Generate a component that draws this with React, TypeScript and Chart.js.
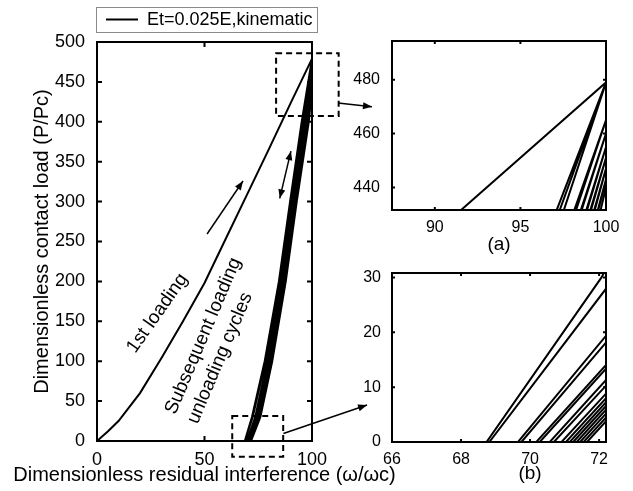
import { useEffect, useRef } from "react";
import { Chart, registerables } from "chart.js";

Chart.register(...registerables);

const W = 633;
const H = 491;
const FONT = "'Liberation Sans', Arial, Helvetica, sans-serif";

// ---------- texts ----------
const seriesLabel = "Et=0.025E,kinematic";
const xTitle = "Dimensionless residual interference (\u03c9/\u03c9c)";
const yTitle = "Dimensionless contact load (P/Pc)";
const firstLoadingText = "1st loading";
const cycleTextLines = ["Subsequent loading", "unloading cycles"];
const insetALabel = "(a)";
const insetBLabel = "(b)";

// ---------- data ----------
// first loading curve
const firstLoadX = [0, 5, 10, 20, 30, 40, 50, 60, 70, 80, 90, 100];
const firstLoadP = [0, 12, 25, 60, 104, 150, 198, 254, 310, 366, 423, 479];

// subsequent unloading / reloading branches: residual interference at these load levels
const branchLoadLevels = [0, 30, 100, 200, 300, 400];
const branchX = [
  [68.74, 72.07, 78.0, 84.6, 89.8, 95.2],
  [68.82, 72.45, 78.3, 84.9, 90.1, 95.5],
  [69.65, 73.6, 79.2, 85.6, 90.7, 95.9],
  [69.75, 73.8, 79.5, 85.9, 91.1, 96.4],
  [70.18, 74.5, 80.0, 86.3, 91.4, 96.6],
  [70.28, 74.6, 80.2, 86.5, 91.6, 96.9],
  [70.57, 74.9, 80.4, 86.7, 91.8, 97.0],
  [70.69, 75.1, 80.6, 86.9, 92.0, 97.3],
  [70.91, 75.3, 80.8, 87.1, 92.2, 97.4],
  [71.04, 75.4, 80.9, 87.2, 92.3, 97.6],
  [71.15, 75.5, 81.0, 87.3, 92.4, 97.7],
  [71.25, 75.6, 81.1, 87.4, 92.5, 97.9],
  [71.35, 75.7, 81.2, 87.5, 92.6, 98.0],
  [71.45, 75.8, 81.3, 87.6, 92.7, 98.2],
  [71.55, 75.9, 81.4, 87.7, 92.8, 98.3],
  [71.65, 76.0, 81.5, 87.8, 92.9, 98.5],
];
// peak load of each branch, reached at full interference
const branchTopP = [479, 479, 479, 465, 465, 460, 460, 455, 455, 451, 451, 447, 447, 443, 443, 440];
const branchTopX = 100;

// ---------- ticks ----------
const mainXTicks = [0, 50, 100];
const mainYTicks = [0, 50, 100, 150, 200, 250, 300, 350, 400, 450, 500];
const insetAXTicks = [90, 95, 100];
const insetAYTicks = [440, 460, 480];
const insetBXTicks = [66, 68, 70, 72];
const insetBYTicks = [0, 10, 20, 30];

// ---------- annotations (main-axes data coordinates) ----------
const firstLoadingLabelAt = { x: 28.1, y: 160 };
const cycleLabelAt = { x: 34.2, y: 34.7 };
const loadArrow = { from: { x: 51.2, y: 259.4 }, to: { x: 67.9, y: 325.8 } };
const cycleArrow = { from: { x: 85.0, y: 304.1 }, to: { x: 90.2, y: 363.2 } };
const boxA = { x0: 83.3, x1: 112.4, y0: 407.3, y1: 485.8 };
const boxB = { x0: 62.9, x1: 86.6, y0: -19.7, y1: 31.3 };
const zoomArrowA = { from: { x: 112.1, y: 423.6 }, to: { x: 127.9, y: 418.9 } };
const zoomArrowB = { from: { x: 86.7, y: 9.4 }, to: { x: 125.6, y: 45.1 } };

function buildPath() {
  const pts: { x: number; y: number }[] = firstLoadX.map((x, i) => ({ x, y: firstLoadP[i] }));
  branchX.forEach((xs, b) => {
    const branch = xs.map((x, i) => ({ x, y: branchLoadLevels[i] }));
    branch.push({ x: branchTopX, y: branchTopP[b] });
    if (b % 2 === 0) branch.reverse(); // unloading branch runs from the peak down
    pts.push(...branch);
  });
  return pts;
}

function arrowHead(ctx: CanvasRenderingContext2D, x1: number, y1: number, x2: number, y2: number, len = 9, half = 3.5) {
  const a = Math.atan2(y2 - y1, x2 - x1);
  const c = Math.cos(a);
  const s = Math.sin(a);
  ctx.beginPath();
  ctx.moveTo(x2, y2);
  ctx.lineTo(x2 - len * c + half * s, y2 - len * s - half * c);
  ctx.lineTo(x2 - len * c - half * s, y2 - len * s + half * c);
  ctx.closePath();
  ctx.fill();
}

function framePlugin(tickLen: number) {
  return {
    id: "frame",
    afterDraw(chart: any) {
      const { ctx, chartArea: a, scales } = chart;
      ctx.save();
      ctx.strokeStyle = "#000";
      ctx.lineWidth = 2;
      ctx.beginPath();
      for (const t of scales.x.ticks) {
        const px = scales.x.getPixelForValue(t.value);
        ctx.moveTo(px, a.bottom);
        ctx.lineTo(px, a.bottom - tickLen);
        ctx.moveTo(px, a.top);
        ctx.lineTo(px, a.top + tickLen);
      }
      for (const t of scales.y.ticks) {
        const py = scales.y.getPixelForValue(t.value);
        ctx.moveTo(a.left, py);
        ctx.lineTo(a.left + tickLen, py);
        ctx.moveTo(a.right, py);
        ctx.lineTo(a.right - tickLen, py);
      }
      ctx.stroke();
      ctx.strokeRect(a.left, a.top, a.right - a.left, a.bottom - a.top);
      ctx.restore();
    },
  };
}

function panelLabelPlugin(text: string, xValue: number | null, dy: number) {
  return {
    id: "panelLabel",
    afterDraw(chart: any) {
      const { ctx, chartArea: a, scales } = chart;
      const px = xValue === null ? (a.left + a.right) / 2 : scales.x.getPixelForValue(xValue);
      ctx.save();
      ctx.fillStyle = "#000";
      ctx.font = `19px ${FONT}`;
      ctx.textAlign = "center";
      ctx.textBaseline = "middle";
      ctx.fillText(text, px, a.bottom + dy);
      ctx.restore();
    },
  };
}

const mainAnnotPlugin = {
  id: "mainAnnot",
  afterDraw(chart: any) {
    const { ctx, scales, chartArea: area } = chart;
    const X = (v: number) => scales.x.getPixelForValue(v);
    const Y = (v: number) => scales.y.getPixelForValue(v);
    ctx.save();
    ctx.fillStyle = "#000";
    ctx.strokeStyle = "#000";

    // x-axis title (drawn here so it is not squeezed to the axis width)
    ctx.font = `20px ${FONT}`;
    ctx.textAlign = "center";
    ctx.textBaseline = "middle";
    ctx.fillText(xTitle, (area.left + area.right) / 2, area.bottom + 34);

    // legend box
    ctx.lineWidth = 1;
    ctx.strokeStyle = "#8a8a8a";
    ctx.strokeRect(96.5, 7.5, 221, 25);
    ctx.strokeStyle = "#000";
    ctx.lineWidth = 2;
    ctx.beginPath();
    ctx.moveTo(106, 19.5);
    ctx.lineTo(138, 19.5);
    ctx.stroke();
    ctx.font = `18px ${FONT}`;
    ctx.textAlign = "left";
    ctx.textBaseline = "middle";
    ctx.fillText(chart.data.datasets[0].label, 147, 20);

    // rotated labels
    ctx.font = `19px ${FONT}`;
    ctx.save();
    ctx.translate(X(firstLoadingLabelAt.x), Y(firstLoadingLabelAt.y));
    ctx.rotate((-55 * Math.PI) / 180);
    ctx.textAlign = "center";
    ctx.textBaseline = "middle";
    ctx.fillText(firstLoadingText, 0, 0);
    ctx.restore();

    ctx.save();
    ctx.translate(X(cycleLabelAt.x), Y(cycleLabelAt.y));
    ctx.rotate((-67 * Math.PI) / 180);
    ctx.textAlign = "left";
    ctx.textBaseline = "middle";
    cycleTextLines.forEach((line, i) => ctx.fillText(line, 0, i * 24));
    ctx.restore();

    // arrows
    ctx.lineWidth = 1.5;
    const drawArrow = (arr: any, both: boolean) => {
      const x1 = X(arr.from.x), y1 = Y(arr.from.y), x2 = X(arr.to.x), y2 = Y(arr.to.y);
      ctx.beginPath();
      ctx.moveTo(x1, y1);
      ctx.lineTo(x2, y2);
      ctx.stroke();
      arrowHead(ctx, x1, y1, x2, y2);
      if (both) arrowHead(ctx, x2, y2, x1, y1);
    };
    drawArrow(loadArrow, false);
    drawArrow(cycleArrow, true);
    drawArrow(zoomArrowA, false);
    drawArrow(zoomArrowB, false);

    // dashed zoom boxes
    ctx.lineWidth = 2;
    ctx.setLineDash([6, 4]);
    for (const b of [boxA, boxB]) {
      ctx.strokeRect(X(b.x0), Y(b.y1), X(b.x1) - X(b.x0), Y(b.y0) - Y(b.y1));
    }
    ctx.setLineDash([]);
    ctx.restore();
  },
};

type Panel = {
  left: number; right: number; top: number; bottom: number;
  xMin: number; xMax: number; yMin: number; yMax: number;
  xTicks: number[]; yTicks: number[];
  tickFont: number; yPad: number; xPad: number;
  titles: boolean;
};

function makeConfig(p: Panel, plugins: any[]): any {
  const tickFont = { family: FONT, size: p.tickFont };
  return {
    type: "scatter",
    data: {
      datasets: [
        {
          label: seriesLabel,
          data: buildPath(),
          showLine: true,
          borderColor: "#000",
          backgroundColor: "#000",
          borderWidth: 2,
          pointRadius: 0,
          fill: false,
          tension: 0,
        },
      ],
    },
    options: {
      responsive: false,
      animation: false,
      events: [],
      layout: { padding: { left: 0, top: p.top, right: W - p.right, bottom: 0 } },
      plugins: { legend: { display: false }, tooltip: { enabled: false } },
      scales: {
        x: {
          type: "linear",
          min: p.xMin,
          max: p.xMax,
          afterBuildTicks: (s: any) => { s.ticks = p.xTicks.map((v) => ({ value: v })); },
          afterFit: (s: any) => { s.height = H - p.bottom; },
          grid: { display: false },
          border: { display: false },
          ticks: { font: tickFont, color: "#000", padding: p.xPad, maxRotation: 0, autoSkip: false },
        },
        y: {
          type: "linear",
          min: p.yMin,
          max: p.yMax,
          afterBuildTicks: (s: any) => { s.ticks = p.yTicks.map((v) => ({ value: v })); },
          afterFit: (s: any) => { s.width = p.left; },
          grid: { display: false },
          border: { display: false },
          ticks: { font: tickFont, color: "#000", padding: p.yPad, autoSkip: false },
          title: p.titles
            ? { display: true, text: yTitle, color: "#000", font: { family: FONT, size: 20 }, padding: { top: 30, bottom: 0 } }
            : { display: false },
        },
      },
    },
    plugins,
  };
}

const mainPanel: Panel = {
  left: 97, right: 312, top: 42, bottom: 441,
  xMin: 0, xMax: 100, yMin: 0, yMax: 500,
  xTicks: mainXTicks, yTicks: mainYTicks,
  tickFont: 18, yPad: 4, xPad: 0, titles: true,
};
const insetAPanel: Panel = {
  left: 392, right: 606, top: 41, bottom: 210,
  xMin: 87.5, xMax: 100, yMin: 431.6, yMax: 494.4,
  xTicks: insetAXTicks, yTicks: insetAYTicks,
  tickFont: 16, yPad: 4, xPad: 0, titles: false,
};
const insetBPanel: Panel = {
  left: 392, right: 606, top: 273, bottom: 442,
  xMin: 66, xMax: 72.2, yMin: 0, yMax: 30.8,
  xTicks: insetBXTicks, yTicks: insetBYTicks,
  tickFont: 16, yPad: 3, xPad: 0, titles: false,
};

export default function App() {
  const mainRef = useRef<HTMLCanvasElement>(null);
  const aRef = useRef<HTMLCanvasElement>(null);
  const bRef = useRef<HTMLCanvasElement>(null);

  useEffect(() => {
    const charts: Chart[] = [];
    if (mainRef.current)
      charts.push(new Chart(mainRef.current, makeConfig(mainPanel, [framePlugin(5), mainAnnotPlugin])));
    if (aRef.current)
      charts.push(new Chart(aRef.current, makeConfig(insetAPanel, [framePlugin(3), panelLabelPlugin(insetALabel, null, 35)])));
    if (bRef.current)
      charts.push(new Chart(bRef.current, makeConfig(insetBPanel, [framePlugin(3), panelLabelPlugin(insetBLabel, 70, 32)])));
    return () => charts.forEach((c) => c.destroy());
  }, []);

  const canvasStyle: any = { position: "absolute", left: 0, top: 0, display: "block" };
  return (
    <div style={{ position: "absolute", left: 0, top: 0, width: W, height: H, background: "#fff" }}>
      <canvas ref={mainRef} width={W} height={H} style={canvasStyle} />
      <canvas ref={aRef} width={W} height={H} style={canvasStyle} />
      <canvas ref={bRef} width={W} height={H} style={canvasStyle} />
    </div>
  );
}
